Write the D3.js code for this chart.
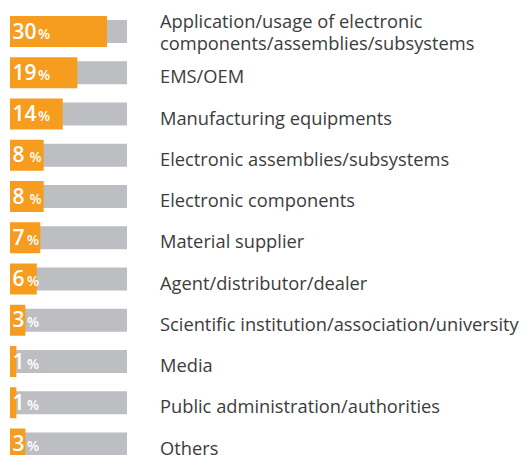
<!DOCTYPE html>
<html><head><meta charset="utf-8">
<script src="https://cdn.jsdelivr.net/npm/d3@7"></script>
<style>
  body { margin: 0; background: #fff; }
  .cat { font-family: "Open Sans", sans-serif; font-size: 18.3px; fill: #3c3c3c; }
  .val { font-family: "Open Sans", sans-serif; fill: #fff; font-weight: 600; }
</style>
</head><body>
<div id="chart"></div>
<script>
var categories = [
  ["Application/usage of electronic", "components/assemblies/subsystems"],
  ["EMS/OEM"],
  ["Manufacturing equipments"],
  ["Electronic assemblies/subsystems"],
  ["Electronic components"],
  ["Material supplier"],
  ["Agent/distributor/dealer"],
  ["Scientific institution/association/university"],
  ["Media"],
  ["Public administration/authorities"],
  ["Others"]
];
var values = [30, 19, 14, 8, 8, 7, 6, 3, 1, 1, 3];

var width = 528, height = 455,
    left = 10,
    trackWidth = 117,
    labelX = 160;

var svg = d3.select('div#chart').append('svg')
    .attr('width', width)
    .attr('height', height);

// bars in the source grow less than linearly, a pow scale fits them well
var xScale = d3.scalePow().exponent(0.8)
    .domain([0, 30])
    .range([0, 97]);

var yScale = d3.scalePoint()
    .domain(d3.range(values.length))
    .range([31.5, 444]);

var rows = svg.selectAll('g.row')
    .data(values)
    .enter().append('g')
    .attr('class', 'row')
    .attr('transform', function (d, i) { return 'translate(0,' + yScale(i) + ')'; });

// grey track
rows.append('rect')
    .attr('x', left)
    .attr('y', -11.5)
    .attr('width', trackWidth)
    .attr('height', 23)
    .attr('fill', '#bdbec1');

// orange value bar
rows.append('rect')
    .attr('x', left)
    .attr('y', -15.5)
    .attr('width', function (d) { return xScale(d); })
    .attr('height', 31)
    .attr('fill', '#f69d1f');

var val = rows.append('text')
    .attr('class', 'val')
    .attr('x', left + 2.5)
    .attr('y', 7);
val.append('tspan')
    .style('font-size', '21px')
    .text(function (d) { return d; });
val.append('tspan')
    .style('font-size', '14px')
    .attr('dx', function (d) { return d >= 10 ? 1.5 : (d === 8 ? 5 : 2.5); })
    .text('%');

// category labels
rows.append('text')
    .attr('class', 'cat')
    .attr('x', labelX)
    .attr('y', function (d, i) { return categories[i].length > 1 ? -3.5 : 10.5; })
    .selectAll('tspan')
    .data(function (d, i) { return categories[i]; })
    .enter().append('tspan')
    .attr('x', labelX)
    .attr('dy', function (d, j) { return j ? 22 : 0; })
    .text(function (d) { return d; });
</script>
</body></html>
